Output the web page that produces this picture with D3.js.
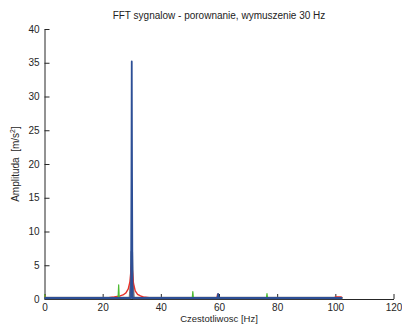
<!DOCTYPE html>
<html>
<head>
<meta charset="utf-8">
<script src="https://cdn.jsdelivr.net/npm/d3@7"></script>
<style>
  body { margin: 0; background: #fff; }
  svg { display: block; font-family: "Liberation Sans", Arial, sans-serif; }
</style>
</head>
<body>
<svg></svg>
<script>
// widmo FFT - cztery sygnaly, wartosci
const grayF = [0, 29.4, 29.8, 30, 30.2, 30.6, 102.4];
const grayA = [0.15, 0.15, 3.0, 7.0, 3.0, 0.15, 0.15];

const redF = [0, 0.4, 1, 20, 22, 24, 26, 27, 28, 28.8, 29.4, 29.8, 30, 30.2, 30.6, 31.2, 32, 33, 34, 36, 38, 59.3, 59.5, 59.7, 99.5, 100, 102, 102.4];
const redA = [0.6, 0.15, 0.15, 0.15, 0.2, 0.3, 0.45, 0.6, 0.9, 1.5, 2.6, 4.5, 5.3, 4.3, 2.3, 1.2, 0.7, 0.45, 0.3, 0.2, 0.15, 0.15, 0.7, 0.15, 0.15, 0.3, 0.3, 0.15];

const greenF = [0, 0.3, 25.3, 25.5, 25.7, 50.8, 51, 51.2, 76.3, 76.5, 76.7, 102.4];
const greenA = [0.7, 0.15, 0.15, 2.1, 0.15, 0.15, 1.1, 0.15, 0.15, 0.8, 0.15, 0.15];

const blueF = [0, 29.75, 29.9, 30, 30.1, 30.25, 59.5, 59.7, 59.9, 102.4];
const blueA = [0.15, 0.15, 18, 35.2, 18, 0.15, 0.15, 0.75, 0.15, 0.15];

const xTicks = [0, 20, 40, 60, 80, 100, 120];
const yTicks = [0, 5, 10, 15, 20, 25, 30, 35, 40];

const svgWidth = 402;
const svgHeight = 324;
const margin = { top: 29, right: 8.5, bottom: 25, left: 44.5 };
const width = svgWidth - margin.left - margin.right;
const height = svgHeight - margin.top - margin.bottom;

const svg = d3.select('svg')
    .attr('width', svgWidth)
    .attr('height', svgHeight);

const g = svg.append('g')
    .attr('transform', `translate(${margin.left}, ${margin.top})`);

const x = d3.scaleLinear().domain([0, 120]).range([0, width]);
const y = d3.scaleLinear().domain([0, 40]).range([height, 0]);

const series = [
    { f: grayF, a: grayA, color: '#74737e', w: 2.6 },
    { f: redF, a: redA, color: '#e8322a', w: 1.4 },
    { f: greenF, a: greenA, color: '#4dbb32', w: 1.2 },
    { f: blueF, a: blueA, color: '#2d4f96', w: 1.8 }
];

const line = d3.line()
    .x(d => x(d[0]))
    .y(d => y(d[1]));

// osie (tylko lewa i dolna, ticki do srodka)
const xAxis = g.append('g')
    .attr('transform', `translate(0, ${height})`)
    .call(d3.axisBottom(x).tickValues(xTicks).tickSizeInner(-5).tickSizeOuter(0).tickPadding(5));

const yAxis = g.append('g')
    .call(d3.axisLeft(y).tickValues(yTicks).tickSizeInner(-5).tickSizeOuter(0).tickPadding(5));

[xAxis, yAxis].forEach(ax => {
    ax.select('.domain').attr('stroke', '#262626');
    ax.selectAll('.tick line').attr('stroke', '#262626');
    ax.selectAll('.tick text')
        .attr('fill', '#262626')
        .attr('font-size', '10px')
        .attr('font-family', '"Liberation Sans", Arial, sans-serif');
});

g.selectAll('.series')
    .data(series)
    .enter().append('path')
    .attr('class', 'series')
    .attr('fill', 'none')
    .attr('stroke', d => d.color)
    .attr('stroke-width', d => d.w)
    .attr('stroke-linejoin', 'round')
    .attr('d', d => line(d.f.map((f, i) => [f, d.a[i]])));

svg.append('text')
    .attr('x', margin.left + width / 2)
    .attr('y', 19)
    .attr('text-anchor', 'middle')
    .attr('font-size', '10px')
    .attr('fill', '#222')
    .text('FFT sygnalow - porownanie, wymuszenie 30 Hz');

svg.append('text')
    .attr('x', margin.left + width / 2)
    .attr('y', 322)
    .attr('text-anchor', 'middle')
    .attr('font-size', '9.5px')
    .attr('fill', '#262626')
    .text('Czestotliwosc [Hz]');

const yl = svg.append('text')
    .attr('transform', `translate(19, ${margin.top + height / 2}) rotate(-90)`)
    .attr('text-anchor', 'middle')
    .attr('font-size', '10px')
    .attr('fill', '#262626');
yl.append('tspan').text('Amplituda\u00a0\u00a0[m/s');
yl.append('tspan').attr('dy', '-4').attr('font-size', '7px').text('2');
yl.append('tspan').attr('dy', '4').text(']');
</script>
</body>
</html>
